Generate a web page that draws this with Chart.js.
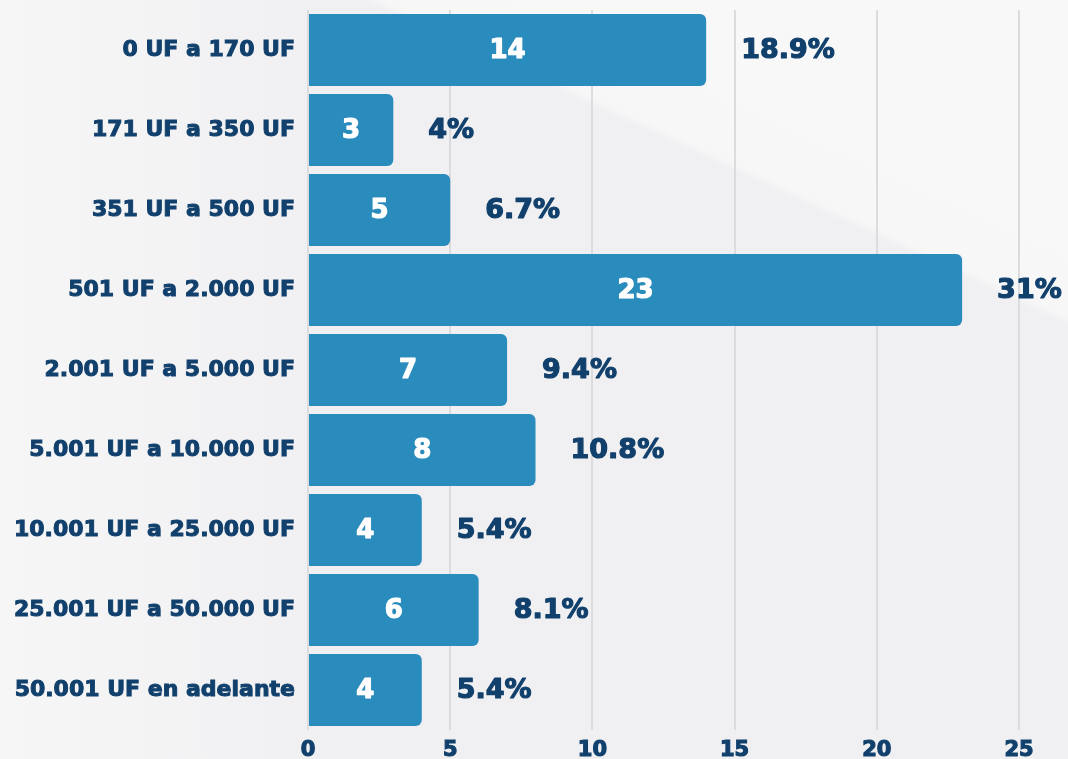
<!DOCTYPE html>
<html><head><meta charset="utf-8">
<script src="https://cdn.jsdelivr.net/npm/chart.js@4.4.1/dist/chart.umd.min.js"></script>
<style>html,body{margin:0;padding:0;background:#EFEFF1;overflow:hidden}#wrap{width:1068px;height:759px;position:relative}</style>
</head><body><div id="wrap"><canvas id="c" width="1068" height="759"></canvas></div>
<script>
const categories = ['0 UF a 170 UF','171 UF a 350 UF','351 UF a 500 UF','501 UF a 2.000 UF','2.001 UF a 5.000 UF','5.001 UF a 10.000 UF','10.001 UF a 25.000 UF','25.001 UF a 50.000 UF','50.001 UF en adelante'];
const counts = [14, 3, 5, 23, 7, 8, 4, 6, 4];
const percentLabels = ['18.9%','4%','6.7%','31%','9.4%','10.8%','5.4%','8.1%','5.4%'];
const xTickValues = [0, 5, 10, 15, 20, 25];

const FONT = '"DejaVu Sans", "Open Sans", sans-serif';
const NAVY = '#11406C';
const BAR = '#2A8BBD';

const bgPlugin = {
  id: 'bg',
  beforeDraw(chart) {
    const ctx = chart.ctx, w = chart.width, h = chart.height;
    ctx.save();
    let g = ctx.createLinearGradient(0, 0, 320, 0);
    g.addColorStop(0, '#F6F6F7');
    g.addColorStop(1, '#F0F0F2');
    ctx.fillStyle = g;
    ctx.fillRect(0, 0, w, h);
    let g2 = ctx.createLinearGradient(727, 90, 667, 220);
    g2.addColorStop(0, 'rgba(248,248,249,1)');
    g2.addColorStop(0.44, 'rgba(248,248,249,0.85)');
    g2.addColorStop(0.5, 'rgba(248,248,249,0)');
    ctx.fillStyle = g2;
    ctx.fillRect(0, 0, w, h);
    ctx.restore();
  }
};

const labelPlugin = {
  id: 'vlabels',
  afterDatasetsDraw(chart) {
    const ctx = chart.ctx;
    const meta = chart.getDatasetMeta(0);
    ctx.save();
    ctx.textBaseline = 'middle';
    ctx.lineJoin = 'round';
    ctx.lineWidth = 1.2;
    meta.data.forEach((bar, i) => {
      ctx.font = 'bold 26px ' + FONT;
      ctx.fillStyle = '#FFFFFF';
      ctx.strokeStyle = '#FFFFFF';
      ctx.textAlign = 'center';
      const cx = (bar.base + bar.x) / 2;
      ctx.strokeText(String(counts[i]), cx, bar.y + 1);
      ctx.fillText(String(counts[i]), cx, bar.y + 1);
      ctx.font = 'bold 27px ' + FONT;
      ctx.fillStyle = NAVY;
      ctx.strokeStyle = NAVY;
      ctx.textAlign = 'left';
      ctx.strokeText(percentLabels[i], bar.x + 35, bar.y + 1);
      ctx.fillText(percentLabels[i], bar.x + 35, bar.y + 1);
    });
    ctx.restore();
  }
};

new Chart(document.getElementById('c'), {
  type: 'bar',
  data: {
    labels: categories,
    datasets: [{
      data: counts,
      backgroundColor: BAR,
      borderRadius: 6,
      borderSkipped: 'start',
      categoryPercentage: 0.9,
      barPercentage: 1.0
    }]
  },
  options: {
    indexAxis: 'y',
    responsive: false,
    animation: false,
    devicePixelRatio: 1,
    layout: { padding: { top: 10, right: 49, left: 0, bottom: 0 } },
    plugins: { legend: { display: false }, tooltip: { enabled: false } },
    scales: {
      x: {
        min: 0, max: 25,
        afterBuildTicks(scale) { scale.ticks = xTickValues.map(v => ({ value: v })); },
        afterFit(scale) { scale.height = 29; scale.paddingLeft = 0; },
        grid: { color: '#DCDCDF', lineWidth: 2, drawTicks: false },
        border: { display: false },
        ticks: { color: NAVY, padding: 8, textStrokeColor: NAVY, textStrokeWidth: 1.2, font: { family: FONT, size: 21, weight: 'bold' } }
      },
      y: {
        afterFit(scale) { scale.width = 308; scale.paddingTop = 0; scale.paddingBottom = 0; },
        grid: { display: false, drawTicks: false },
        border: { display: false },
        ticks: { color: NAVY, padding: 13, textStrokeColor: NAVY, textStrokeWidth: 1, font: { family: FONT, size: 22, weight: 'bold' } }
      }
    }
  },
  plugins: [bgPlugin, labelPlugin]
});
</script>
</body></html>
